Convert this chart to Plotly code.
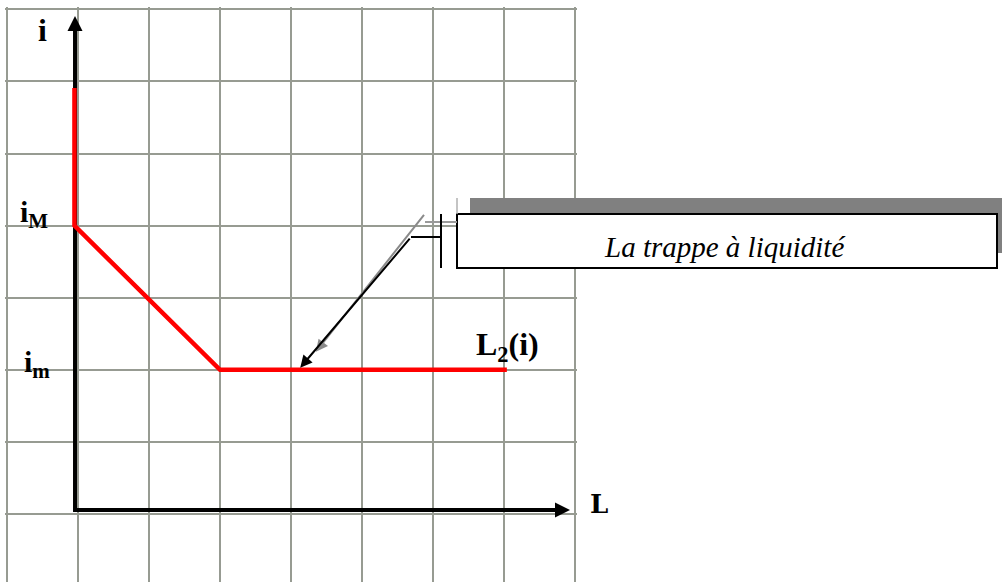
import plotly.graph_objects as go

# ---------------- data ----------------
# money-demand curve L2(i): liquidity L (grid units) vs interest rate i (grid units)
L_vals = [0.95, 0.95, 3.0, 7.04]
i_vals = [5.91, 4.0, 2.0, 2.0]

i_M = 4.0          # i_M level
i_m = 2.0          # i_m level (liquidity trap)
trap_L = 4.13      # point on the trap the callout points at

# axis geometry (grid units)
axis_x0 = 0.958
axis_y0 = 0.055
y_tip = 6.907
x_tip = 7.93

W, H = 1002, 582
GRID = "#979b92"

def px(xp):
    return xp / W

def py(yp):
    return 1 - yp / H

fig = go.Figure()

# axes (black, with arrowheads)
fig.add_trace(go.Scatter(
    x=[axis_x0, axis_x0, x_tip - 0.18],
    y=[y_tip - 0.17, axis_y0, axis_y0],
    mode="lines", line=dict(color="black", width=4),
    hoverinfo="skip"))
fig.add_trace(go.Scatter(
    x=[axis_x0, x_tip], y=[y_tip, axis_y0],
    mode="markers",
    marker=dict(symbol=["arrow-up", "arrow-right"], size=15, color="black",
                line=dict(width=0)),
    hoverinfo="skip"))

# red curve
fig.add_trace(go.Scatter(
    x=L_vals, y=i_vals, mode="lines",
    line=dict(color="#ff0000", width=4.5),
    hoverinfo="skip"))

shapes = []
annotations = []

# callout shadow + box
shapes.append(dict(type="rect", xref="paper", yref="paper",
                   x0=px(470), x1=px(1012), y0=py(253), y1=py(198),
                   fillcolor="#808080", line=dict(width=0), layer="above"))
shapes.append(dict(type="rect", xref="paper", yref="paper",
                   x0=px(457), x1=px(997), y0=py(268), y1=py(214),
                   fillcolor="white", line=dict(color="black", width=2), layer="above"))
# leader: grey shadow parts
shapes.append(dict(type="line", xref="paper", yref="paper",
                   x0=px(425), x1=px(457), y0=py(222), y1=py(222),
                   line=dict(color="#9a9a9a", width=2), layer="above"))
shapes.append(dict(type="line", xref="paper", yref="paper",
                   x0=px(457), x1=px(457), y0=py(198), y1=py(214),
                   line=dict(color="#b0b0b0", width=1.5), layer="above"))
# leader: black tick + horizontal
shapes.append(dict(type="line", xref="paper", yref="paper",
                   x0=px(441), x1=px(441), y0=py(214), y1=py(268),
                   line=dict(color="black", width=2), layer="above"))
shapes.append(dict(type="line", xref="paper", yref="paper",
                   x0=px(411), x1=px(441), y0=py(237), y1=py(237),
                   line=dict(color="black", width=2), layer="above"))

# grey shadow arrow
annotations.append(dict(x=trap_L + 0.22, y=i_m + 0.25, xref="x", yref="y",
                        ax=5.89, ay=4.17, axref="x", ayref="y",
                        text="", showarrow=True, arrowhead=2, arrowsize=1.2,
                        arrowwidth=2, arrowcolor="#8a8a8a"))
# black arrow
annotations.append(dict(x=trap_L, y=i_m + 0.03, xref="x", yref="y",
                        ax=5.69, ay=3.84, axref="x", ayref="y",
                        text="", showarrow=True, arrowhead=2, arrowsize=1.2,
                        arrowwidth=2, arrowcolor="black"))

SERIF = "Liberation Serif"
SLAB = "DejaVu Serif"
annotations += [
    dict(text="<b>i</b>", x=px(42), y=py(30), xanchor="center", yanchor="middle",
         xref="paper", yref="paper", showarrow=False,
         font=dict(family=SERIF, size=32, color="black")),
    dict(text="<b>i<sub>M</sub></b>", x=px(18), y=py(214), xanchor="left", yanchor="middle",
         xref="paper", yref="paper", showarrow=False,
         font=dict(family=SERIF, size=30, color="black")),
    dict(text="<b>i<sub>m</sub></b>", x=px(22), y=py(364), xanchor="left", yanchor="middle",
         xref="paper", yref="paper", showarrow=False,
         font=dict(family=SERIF, size=30, color="black")),
    dict(text="<b>L<sub>2</sub>(i)</b>", x=px(508), y=py(346), xanchor="center", yanchor="middle",
         xref="paper", yref="paper", showarrow=False,
         font=dict(family=SERIF, size=32, color="black")),
    dict(text="<b>L</b>", x=px(599), y=py(504), xanchor="center", yanchor="middle",
         xref="paper", yref="paper", showarrow=False,
         font=dict(family=SLAB, size=26, color="black")),
    dict(text="<i>La trappe à liquidité</i>", x=px(724), y=py(247),
         xanchor="center", yanchor="middle",
         xref="paper", yref="paper", showarrow=False,
         font=dict(family=SERIF, size=29, color="black")),
]

fig.update_layout(
    width=W, height=H,
    margin=dict(l=0, r=0, t=0, b=0),
    paper_bgcolor="white", plot_bgcolor="white",
    showlegend=False,
    shapes=shapes, annotations=annotations,
    xaxis=dict(domain=[5 / W, 577 / W], range=[-2 / 71, 570 / 71],
               tick0=0, dtick=1, showgrid=True, gridcolor=GRID, gridwidth=2,
               zeroline=False, showticklabels=False, ticks="", fixedrange=True),
    yaxis=dict(domain=[0, 575 / H], range=[(514 - 582) / 72.1, 507 / 72.1],
               tick0=0, dtick=1, showgrid=True, gridcolor=GRID, gridwidth=2,
               zeroline=False, showticklabels=False, ticks="", fixedrange=True),
)

fig.write_html("out.html", config={"displayModeBar": False},
               post_script="document.body.style.margin='0';document.body.style.padding='0';"
                           "document.body.style.overflow='hidden';")
